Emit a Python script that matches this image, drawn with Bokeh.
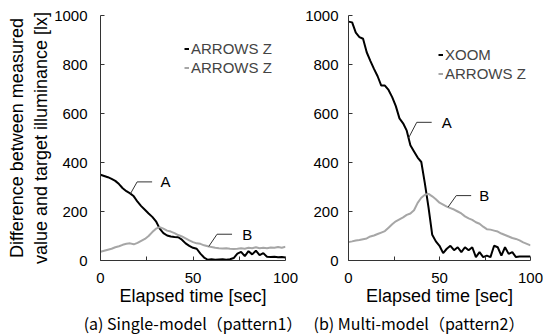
import numpy as np
from bokeh.plotting import figure
from bokeh.models import Legend, LegendItem, FixedTicker, Range1d
from bokeh.layouts import row
from bokeh.embed import file_html
from bokeh.resources import INLINE
from bokeh.core.properties import value

# ---------------- data ----------------
time_sec = list(range(0, 101, 2))

# (a) Single-model (pattern1)
single_a = [350, 345, 340, 333, 325, 312, 295, 283, 274, 262, 240, 222, 207, 192, 178, 160,
            130, 112, 102, 98, 96, 95, 85, 70, 60, 52, 48, 28, 12, 3, 5, 3, 4, 5, 3, 5,
            10, 28, 35, 18, 38, 25, 40, 22, 30, 15, 14, 15, 13, 14, 12]
single_b = [36, 40, 44, 48, 54, 58, 64, 68, 70, 66, 72, 80, 88, 100, 116, 130, 136, 130,
            122, 118, 112, 104, 98, 90, 82, 75, 70, 68, 62, 58, 55, 52, 50, 49, 50, 48,
            47, 48, 50, 48, 52, 50, 54, 50, 52, 50, 53, 52, 55, 52, 56]

# (b) Multi-model (pattern2)
multi_a = [975, 972, 930, 912, 905, 850, 815, 782, 752, 714, 714, 696, 667, 630, 580, 560,
           530, 470, 445, 420, 402, 313, 215, 105, 78, 60, 30, 48, 60, 42, 54, 34, 54, 42,
           54, 14, 34, 14, 20, 14, 60, 54, 20, 54, 27, 34, 14, 16, 16, 16, 16]
multi_b = [75, 78, 82, 84, 87, 90, 98, 102, 108, 114, 120, 134, 148, 160, 168, 176, 186,
           192, 205, 235, 256, 268, 272, 262, 250, 236, 228, 220, 214, 208, 200, 192, 180,
           172, 166, 156, 150, 138, 128, 126, 122, 118, 110, 104, 98, 92, 88, 82, 74, 68, 62]

single_names = ["ARROWS Z", "ARROWS Z"]
multi_names = ["XOOM", "ARROWS Z"]

x_ticks = [0, 25, 50, 75, 100]
y_ticks = [0, 200, 400, 600, 800, 1000]

# call-outs: (label, which series, anchor time, dx, dy, horizontal length, text gap)
single_callouts = [("A", 0, 16.2, 3.6, 48, 8.1, 4.5), ("B", 1, 58.5, 4.5, 50, 8.1, 5.5)]
multi_callouts = [("A", 0, 33.0, 4.5, 64, 8.2, 5.5), ("B", 1, 54.7, 4.5, 47, 8.2, 4.5)]

FONT = "Liberation Sans"
AX = "#333333"
GRAY = "#a6a6a6"


def make_panel(caption, caption_align, caption_offset, ylabel, series, names, callouts,
               legend_xy, width, border_left, border_right, ytick_standoff):
    p = figure(width=width, height=335,
               min_border_left=border_left, min_border_right=border_right,
               min_border_top=15, min_border_bottom=75,
               x_range=Range1d(0, 100), y_range=Range1d(0, 1000),
               title=caption, title_location="below",
               toolbar_location=None, output_backend="svg")
    p.outline_line_color = None
    p.grid.visible = False
    p.background_fill_color = "white"

    p.title.text_font = "Noto Sans CJK JP"
    p.title.text_font_size = "16px"
    p.title.text_font_style = "normal"
    p.title.text_color = "black"
    p.title.align = caption_align
    p.title.offset = caption_offset
    p.title.standoff = 0

    for ax in (p.xaxis[0], p.yaxis[0]):
        ax.axis_line_color = AX
        ax.major_tick_line_color = AX
        ax.major_tick_in = 4
        ax.major_tick_out = 0
        ax.minor_tick_line_color = None
        ax.major_label_text_font = FONT
        ax.major_label_text_font_size = "15px"
        ax.major_label_text_color = "black"
        ax.axis_label_text_font = FONT
        ax.axis_label_text_font_size = "18px"
        ax.axis_label_text_font_style = "normal"
        ax.axis_label_text_color = "black"

    p.xaxis.ticker = FixedTicker(ticks=x_ticks)
    p.xaxis.major_label_overrides = {25: "", 75: ""}
    p.xaxis.major_label_standoff = 12
    p.xaxis.axis_label = "Elapsed time [sec]"
    p.xaxis.axis_label_standoff = 0

    p.yaxis.ticker = FixedTicker(ticks=y_ticks)
    p.yaxis.major_label_standoff = ytick_standoff
    if ylabel:
        p.yaxis.axis_label = ylabel
        p.yaxis.axis_label_standoff = 0

    r_black = p.line(time_sec, series[0], line_color="black", line_width=2)
    r_gray = p.line(time_sec, series[1], line_color=GRAY, line_width=2)

    for lab, idx, t0, dx, dy, ln, gap in callouts:
        y0 = float(np.interp(t0, time_sec, series[idx]))
        p.line([t0, t0 + dx, t0 + dx + ln], [y0, y0 + dy, y0 + dy],
               line_color=AX, line_width=1)
        p.text([t0 + dx + ln + gap], [y0 + dy], text=[lab],
               text_font=value(FONT), text_font_size="15px",
               text_baseline="middle", text_align="left", text_color="black")

    legend = Legend(items=[LegendItem(label=names[0], renderers=[r_black]),
                           LegendItem(label=names[1], renderers=[r_gray])],
                    location=legend_xy, orientation="vertical",
                    glyph_width=5, glyph_height=19, label_height=19,
                    label_standoff=2, spacing=0, padding=0, margin=0,
                    label_text_font=FONT, label_text_font_size="15px",
                    border_line_color=None, background_fill_alpha=0)
    p.add_layout(legend)
    return p


left = make_panel("(a) Single-model（pattern1）", "center", 0,
                  "Difference between measured\nvalue and target illuminance [lx]",
                  [single_a, single_b], single_names, single_callouts,
                  (84, 183), 302, 100, 17, 13)
right = make_panel("(b) Multi-model（pattern2）", "right", 6, None,
                   [multi_a, multi_b], multi_names, multi_callouts,
                   (90, 177), 241, 44, 13, 10)

layout = row(left, right)
open("out.html", "w").write(file_html(layout, INLINE))
